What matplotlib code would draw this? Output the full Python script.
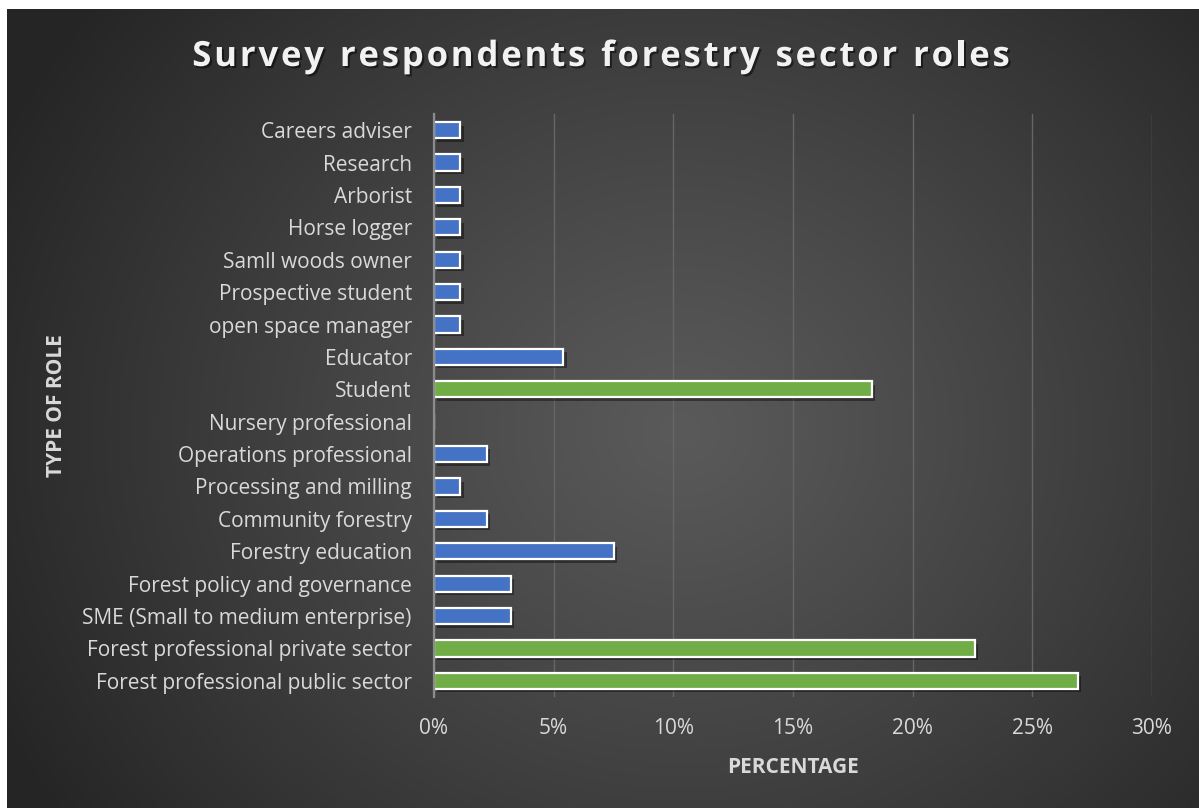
import numpy as np
import matplotlib
matplotlib.use("Agg")
import matplotlib.pyplot as plt
import matplotlib.patheffects as pe
from matplotlib.ticker import FuncFormatter

# -----------------------------
# Data (percent of respondents)
# -----------------------------
roles = [
    "Forest professional public sector",
    "Forest professional private sector",
    "SME (Small to medium enterprise)",
    "Forest policy and governance",
    "Forestry education",
    "Community forestry",
    "Processing and milling",
    "Operations professional",
    "Nursery professional",
    "Student",
    "Educator",
    "open space manager",
    "Prospective student",
    "Samll woods owner",
    "Horse logger",
    "Arborist",
    "Research",
    "Careers adviser",
]
share = [26.9, 22.6, 3.2, 3.2, 7.5, 2.2, 1.1, 2.2, 0.0, 18.3,
         5.4, 1.1, 1.1, 1.1, 1.1, 1.1, 1.1, 1.1]
highlight = ["Forest professional public sector",
             "Forest professional private sector",
             "Student"]

title = "Survey respondents forestry sector roles"
x_ticks = [0, 5, 10, 15, 20, 25, 30]

BLUE = "#4472C4"
GREEN = "#70AD47"
TEXT = "#d9d9d9"
FONT = "Open Sans"

W, H, DPI = 1199, 808, 100
fig = plt.figure(figsize=(W / DPI, H / DPI), dpi=DPI)
fig.patch.set_facecolor("white")

# -----------------------------
# Radial dark background
# -----------------------------
bg = fig.add_axes([7 / W, 0, 1 - 7 / W, 1 - 9 / H])
bg.set_axis_off()
yy, xx = np.mgrid[0:H - 9, 7:W]
yy = yy + 9
r = np.sqrt(((xx - 680) / 1.0) ** 2 + ((yy - 430) / 0.9) ** 2)
t = np.clip(r / 760, 0, 1)
lvl = 0x5a - (0x5a - 0x25) * t ** 1.1
img = np.dstack([lvl, lvl, lvl]) / 255
bg.imshow(img, aspect="auto", extent=[0, 1, 0, 1], interpolation="bilinear")
bg.set_xlim(0, 1)
bg.set_ylim(0, 1)

# -----------------------------
# Bars
# -----------------------------
ax = fig.add_axes([434 / W, 1 - 697 / H, 718 / W, 583 / H])
ax.patch.set_alpha(0)
y = np.arange(len(roles))
colors = [GREEN if r_ in highlight else BLUE for r_ in roles]
bars = ax.barh(y, share, height=0.5, color=colors, edgecolor="white",
               linewidth=1.6, zorder=3)
for b in bars:
    b.set_path_effects([pe.SimplePatchShadow(offset=(2.5, -2.5), alpha=0.4,
                                             shadow_rgbFace="black"),
                        pe.Normal()])

ax.set_xlim(0, 30)
ax.set_ylim(-0.5, len(roles) - 0.5)
ax.set_xticks(x_ticks)
ax.xaxis.set_major_formatter(FuncFormatter(lambda v, _: f"{v:.0f}%"))
ax.set_yticks(y)
ax.set_yticklabels(roles)
ax.grid(axis="x", color="#666666", linewidth=1, zorder=0)
ax.set_axisbelow(True)
for s in ["top", "right", "bottom"]:
    ax.spines[s].set_visible(False)
ax.spines["left"].set_color("#8c8c8c")
ax.spines["left"].set_linewidth(1.6)
ax.spines["left"].set_zorder(4)
ax.tick_params(axis="both", length=0, colors=TEXT, labelsize=15)
ax.tick_params(axis="y", pad=16)
ax.tick_params(axis="x", pad=15)
for lab in ax.get_xticklabels() + ax.get_yticklabels():
    lab.set_fontfamily(FONT)

ax.set_xlabel("PERCENTAGE", color=TEXT, fontsize=15, fontweight="bold",
              fontfamily=FONT, labelpad=13)
ax.set_ylabel("TYPE OF ROLE", color=TEXT, fontsize=15, fontweight="bold",
              fontfamily=FONT)
ax.yaxis.set_label_coords(-(434 - 67) / 718, 0.5)

# -----------------------------
# Title with letter spacing
# -----------------------------
renderer = fig.canvas.get_renderer()
tprops = dict(fontsize=25, fontweight="bold", fontfamily=FONT, color="#f2f2f2",
              va="center", ha="left",
              path_effects=[pe.withSimplePatchShadow(offset=(1.5, -1.5), alpha=0.5,
                                                     shadow_rgbFace="black")])
track = 2.8
widths = []
for ch in title:
    tmp = fig.text(0, 0, ch if ch != " " else "n", **tprops)
    w = tmp.get_window_extent(renderer).width
    if ch == " ":
        w *= 0.45
    widths.append(w)
    tmp.remove()
total = sum(widths) + track * (len(title) - 1)
x0 = 601 - total / 2
for ch, w in zip(title, widths):
    if ch != " ":
        fig.text(x0 / W, 1 - 57 / H, ch, **tprops)
    x0 += w + track

fig.savefig("out.png", dpi=DPI, facecolor=fig.get_facecolor())
